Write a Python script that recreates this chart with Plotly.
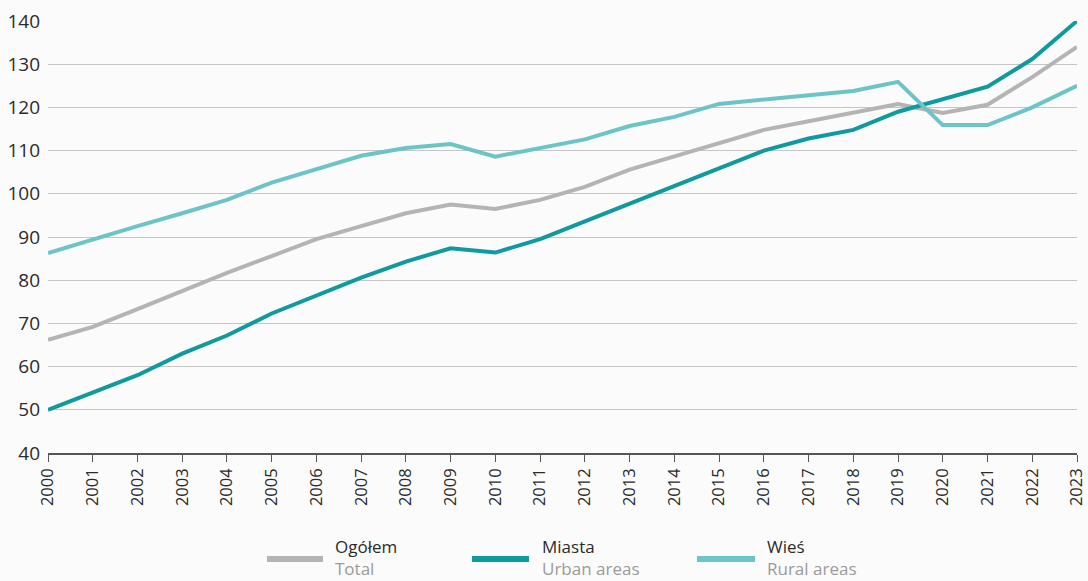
import plotly.graph_objects as go

years = list(range(2000, 2024))
total = [66.2, 69.2, 73.3, 77.5, 81.7, 85.6, 89.5, 92.5, 95.5, 97.5, 96.5, 98.6,
         101.6, 105.6, 108.7, 111.7, 114.8, 116.8, 118.8, 120.8, 118.7, 120.6, 127.0, 134.0]
urban = [50.0, 54.1, 58.0, 63.0, 67.2, 72.3, 76.4, 80.6, 84.3, 87.4, 86.4, 89.5,
         93.6, 97.7, 101.8, 105.9, 110.0, 112.8, 114.8, 119.0, 122.0, 124.8, 131.2, 140.0]
rural = [86.3, 89.5, 92.5, 95.5, 98.6, 102.6, 105.7, 108.8, 110.6, 111.5, 108.6, 110.6,
         112.6, 115.7, 117.8, 120.8, 121.8, 122.8, 123.8, 125.9, 115.9, 115.9, 120.0, 125.0]

names_pl = ["Ogółem", "Miasta", "Wieś"]
names_en = ["Total", "Urban areas", "Rural areas"]
colors = ["#b4b4b4", "#0f9aa0", "#6cc4c9"]
series = [total, urban, rural]

y_ticks = list(range(40, 150, 10))

# legend layout (paper coordinates)
leg_line_x = [(0.2128, 0.2672), (0.4120, 0.4674), (0.6307, 0.6871)]
leg_text_x = [0.2770, 0.4781, 0.6968]
leg_line_y = -0.2454
leg_text_y = -0.2419

FONT = "Open Sans, Noto Sans, sans-serif"

fig = go.Figure()
for vals, pl, c in zip(series, names_pl, colors):
    fig.add_trace(go.Scatter(
        x=years, y=vals, mode="lines", name=pl,
        line=dict(color=c, width=4),
        showlegend=False,
    ))

shapes = []
annotations = []
for (x0, x1), tx, pl, en, c in zip(leg_line_x, leg_text_x, names_pl, names_en, colors):
    shapes.append(dict(type="line", xref="paper", yref="paper", x0=x0, x1=x1,
                       y0=leg_line_y, y1=leg_line_y, line=dict(color=c, width=6)))
    annotations.append(dict(xref="paper", yref="paper", x=tx, y=leg_text_y,
                            text=f"{pl}<br><span style='color:#9a9a9a'>{en}</span>",
                            showarrow=False, xanchor="left", yanchor="middle", align="left",
                            font=dict(family=FONT, size=17, color="#2b2b2b")))

fig.update_layout(
    width=1088, height=581,
    margin=dict(l=48, r=11, t=21, b=128),
    paper_bgcolor="#fbfbfb", plot_bgcolor="#fbfbfb",
    font=dict(family=FONT, size=16, color="#2b2b2b"),
    showlegend=False,
    shapes=shapes, annotations=annotations,
)
fig.update_xaxes(
    range=[2000, 2023], tickmode="array", tickvals=years, ticktext=[str(y) for y in years],
    tickangle=-90, ticks="outside", ticklen=7, tickcolor="#555555", tickwidth=1.2,
    showline=True, linecolor="#555555", linewidth=1.5, showgrid=False, zeroline=False,
    tickfont=dict(size=16.5, color="#2b2b2b"), automargin=False, ticklabeloverflow="allow",
)
fig.update_yaxes(
    range=[40, 140], tickmode="array", tickvals=y_ticks, showgrid=True,
    gridcolor="#c6c6c6", gridwidth=1, zeroline=False, showline=False, ticks="",
    tickfont=dict(size=19, color="#2b2b2b"), ticklabelstandoff=7, automargin=False,
    ticklabeloverflow="allow",
)

fig.write_html(
    "out.html",
    config={"displayModeBar": False},
    post_script="document.body.style.margin='0';document.body.style.overflow='hidden';",
)
